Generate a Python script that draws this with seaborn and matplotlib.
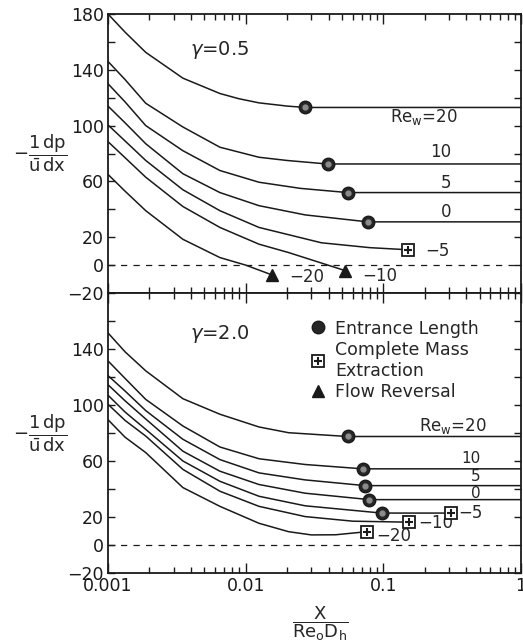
import numpy as np
import pandas as pd
import matplotlib
matplotlib.use('Agg')
import matplotlib.pyplot as plt
from matplotlib.lines import Line2D
from matplotlib.ticker import FixedLocator, LogLocator, NullFormatter, FuncFormatter
import seaborn as sns

# ---- curves, gamma = 0.5 (upper panel) ----
g05_re20_x = [0.001, 0.00133, 0.00188, 0.0035, 0.0065, 0.0089, 0.0125, 0.02, 0.027, 1.0]
g05_re20_y = [180, 167, 152.5, 134, 123, 119.3, 116.3, 114, 113, 113]
g05_re10_x = [0.001, 0.00133, 0.00188, 0.0035, 0.0065, 0.0125, 0.02, 0.039, 1.0]
g05_re10_y = [146, 133, 116, 99, 84.5, 77.3, 75, 72.5, 72.5]
g05_re5_x = [0.001, 0.00133, 0.00188, 0.0035, 0.0065, 0.0125, 0.025, 0.055, 1.0]
g05_re5_y = [130, 117, 100, 82, 67.8, 59.4, 55, 52, 52]
g05_re0_x = [0.001, 0.00133, 0.00188, 0.0035, 0.0065, 0.0125, 0.027, 0.077, 1.0]
g05_re0_y = [114, 102, 87, 65.5, 52, 42.6, 36, 31, 31]
g05_rem5_x = [0.001, 0.00133, 0.00188, 0.0035, 0.0065, 0.0125, 0.0355, 0.08, 0.151]
g05_rem5_y = [100.5, 89, 75, 54, 39, 27, 16, 12.5, 11]
g05_rem10_x = [0.001, 0.00133, 0.00188, 0.0035, 0.0065, 0.0125, 0.0205, 0.053]
g05_rem10_y = [88.5, 77, 63, 42, 27, 15, 9, -4]
g05_rem20_x = [0.001, 0.00133, 0.00188, 0.0035, 0.0065, 0.01, 0.0155]
g05_rem20_y = [65, 53, 39, 18.5, 5.4, 0, -7]

# ---- curves, gamma = 2.0 (lower panel) ----
g20_re20_x = [0.001, 0.00133, 0.00188, 0.0035, 0.0065, 0.0125, 0.0205, 0.055, 1.0]
g20_re20_y = [151.5, 138, 124.4, 104.5, 93.4, 84.3, 80.2, 77.5, 77.5]
g20_re10_x = [0.001, 0.00133, 0.00188, 0.0035, 0.0065, 0.0125, 0.027, 0.071, 1.0]
g20_re10_y = [131.5, 119, 104, 85, 70, 61.6, 57.5, 54.4, 54.4]
g20_re5_x = [0.001, 0.00133, 0.00188, 0.0035, 0.0065, 0.0125, 0.027, 0.0738, 1.0]
g20_re5_y = [121, 110, 96, 75.5, 61, 51.5, 46.5, 42.4, 42.4]
g20_re0_x = [0.001, 0.00133, 0.00188, 0.0035, 0.0065, 0.0125, 0.027, 0.0793, 1.0]
g20_re0_y = [114.5, 103, 90, 67, 52.7, 43.2, 37, 32.4, 32.4]
g20_rem5_x = [0.001, 0.00133, 0.00188, 0.0035, 0.0065, 0.0125, 0.027, 0.0973, 0.308]
g20_rem5_y = [107, 95, 82.6, 60, 45.5, 34.8, 28, 22.8, 22.8]
g20_rem10_x = [0.001, 0.00133, 0.00188, 0.0035, 0.0065, 0.0125, 0.027, 0.06, 0.154]
g20_rem10_y = [100.5, 89, 77.8, 54, 38.4, 27.6, 20.3, 17, 16.3]
g20_rem20_x = [0.001, 0.00133, 0.00188, 0.0035, 0.0065, 0.0125, 0.0205, 0.03, 0.045, 0.076]
g20_rem20_y = [89.5, 77, 66, 41, 27.6, 15.5, 9.5, 7.2, 7.3, 9.5]

re_w = [20, 10, 5, 0, -5, -10, -20]
re_keys = ['re20', 're10', 're5', 're0', 'rem5', 'rem10', 'rem20']

# ---- special points ----
g05_entr_x = [0.0272, 0.0394, 0.0552, 0.077]
g05_entr_y = [113, 72.5, 52, 31]
g05_cme_x = [0.151]
g05_cme_y = [11]
g05_rev_x = [0.0155, 0.053]
g05_rev_y = [-7, -4]

g20_entr_x = [0.0552, 0.071, 0.0738, 0.0793, 0.0973]
g20_entr_y = [77.5, 54.4, 42.4, 32.4, 22.8]
g20_cme_x = [0.308, 0.154, 0.076]
g20_cme_y = [22.8, 16.3, 9.5]
g20_rev_x = []
g20_rev_y = []

# ---- curve labels ----
g05_lab_text = [r'Re$_\mathrm{w}$=20', '10', '5', '0', '−5', '−10', '−20']
g05_lab_x = [0.196, 0.26, 0.287, 0.287, 0.203, 0.0698, 0.0207]
g05_lab_y = [106, 81, 58.6, 37.8, 10.2, -7.8, -8.5]
g05_lab_ha = ['center', 'center', 'center', 'center', 'left', 'left', 'left']
g05_lab_size = [12, 12, 12, 12, 12, 12, 12]

g20_lab_text = [r'Re$_\mathrm{w}$=20', '10', '5', '0', '−5', '−10', '−20']
g20_lab_x = [0.323, 0.435, 0.47, 0.47, 0.35, 0.18, 0.0895]
g20_lab_y = [85, 61.5, 49, 37, 22.9, 15.6, 6.6]
g20_lab_ha = ['center', 'center', 'center', 'center', 'left', 'left', 'left']
g20_lab_size = [12, 11, 11, 11, 12, 12, 12]


def curves_frame(prefix):
    g = globals()
    rows = []
    for re, key in zip(re_w, re_keys):
        xs = g[prefix + '_' + key + '_x']
        ys = g[prefix + '_' + key + '_y']
        for x, y in zip(xs, ys):
            rows.append({'Re': re, 'x': x, 'y': y})
    return pd.DataFrame(rows)


def style_axis(ax, labels_y, show_x):
    ax.set_xscale('log')
    ax.set_xlim(0.001, 1.0)
    ax.set_ylim(-20, 180)
    ax.yaxis.set_major_locator(FixedLocator(list(range(-20, 181, 20))))
    ax.yaxis.set_major_formatter(FuncFormatter(
        lambda v, p: (('−%d' % -v) if v < 0 else '%d' % v) if int(round(v)) in labels_y else ''))
    ax.xaxis.set_major_locator(LogLocator(base=10, numticks=10))
    ax.xaxis.set_minor_locator(LogLocator(base=10, subs=np.arange(2, 10), numticks=20))
    ax.xaxis.set_minor_formatter(NullFormatter())
    ax.xaxis.set_major_formatter(FuncFormatter(lambda v, p: '%g' % v))
    ax.tick_params(which='both', direction='in', top=True, right=True,
                   labelbottom=show_x, width=1.0, colors='k', labelsize=12.5, pad=3)
    ax.tick_params(axis='x', which='major', length=7)
    ax.tick_params(axis='x', which='minor', length=4)
    ax.tick_params(axis='y', which='major', length=5)
    for s in ax.spines.values():
        s.set_linewidth(1.3)
        s.set_color('k')
    ax.axhline(0, color='k', lw=0.9, ls=(0, (5, 5)))
    ax.set_xlabel('')
    ax.set_ylabel(r'$-\dfrac{1\,dp}{\bar{u}\,dx}$', rotation=0, fontsize=13,
                  ha='center', va='center')
    ax.yaxis.set_label_coords(-0.165, 0.5)


def draw_panel(ax, prefix, gamma_text, gamma_xy):
    g = globals()
    df = curves_frame(prefix)
    sns.lineplot(data=df, x='x', y='y', units='Re', estimator=None, sort=False,
                 color='k', linewidth=1.1, ax=ax, legend=False)
    ex, ey = g[prefix + '_entr_x'], g[prefix + '_entr_y']
    ax.plot(ex, ey, ls='none', marker='o', ms=9, mfc='0.15', mec='k', mew=1.0, zorder=5)
    ax.plot(ex, ey, ls='none', marker='o', ms=3.5, mfc='0.55', mec='0.55', zorder=6)
    cx, cy = g[prefix + '_cme_x'], g[prefix + '_cme_y']
    ax.plot(cx, cy, ls='none', marker='s', ms=8, mfc='white', mec='k', mew=1.3, zorder=5)
    ax.plot(cx, cy, ls='none', marker='+', ms=5.5, mec='k', mew=1.5, zorder=6)
    rx, ry = g[prefix + '_rev_x'], g[prefix + '_rev_y']
    if rx:
        ax.plot(rx, ry, ls='none', marker='^', ms=9, mfc='k', mec='k', zorder=5)
    for t, x, y, ha, fs in zip(g[prefix + '_lab_text'], g[prefix + '_lab_x'],
                               g[prefix + '_lab_y'], g[prefix + '_lab_ha'],
                               g[prefix + '_lab_size']):
        ax.text(x, y, t, ha=ha, va='center', fontsize=fs)
    ax.text(gamma_xy[0], gamma_xy[1], gamma_text, ha='center', va='center', fontsize=14)


sns.set_theme(style='ticks')
plt.rcParams['font.family'] = ['DejaVu Sans']
plt.rcParams['mathtext.default'] = 'regular'
plt.rcParams['axes.unicode_minus'] = True

fig = plt.figure(figsize=(5.23, 6.42), dpi=100)
ax_top = fig.add_axes([0.2065, 0.5436, 0.7897, 0.4346])
ax_bot = fig.add_axes([0.2065, 0.1075, 0.7897, 0.4361])

draw_panel(ax_top, 'g05', r'$\mathit{\gamma}$=0.5', (0.0065, 154))
draw_panel(ax_bot, 'g20', r'$\mathit{\gamma}$=2.0', (0.0065, 150.8))

style_axis(ax_top, [180, 140, 100, 60, 20, 0, -20], False)
style_axis(ax_bot, [140, 100, 60, 20, 0, -20], True)

ax_bot.set_xlabel(r'$\dfrac{X}{Re_oD_h}$', fontsize=13)
ax_bot.xaxis.set_label_coords(0.513, -0.112)

h_entr = Line2D([], [], ls='none', marker='o', ms=9, mfc='0.15', mec='k')
h_cme = (Line2D([], [], ls='none', marker='s', ms=8, mfc='white', mec='k', mew=1.3),
         Line2D([], [], ls='none', marker='+', ms=5.5, mec='k', mew=1.5))
h_rev = Line2D([], [], ls='none', marker='^', ms=9, mfc='k', mec='k')
ax_bot.legend([h_entr, h_cme, h_rev],
              ['Entrance Length', 'Complete Mass\nExtraction', 'Flow Reversal'],
              loc='upper left', bbox_to_anchor=(0.47, 0.93), frameon=False,
              fontsize=12.5, handlelength=1.0, handletextpad=0.5,
              labelspacing=0.2, borderaxespad=0)

fig.savefig('out.png', dpi=100)
